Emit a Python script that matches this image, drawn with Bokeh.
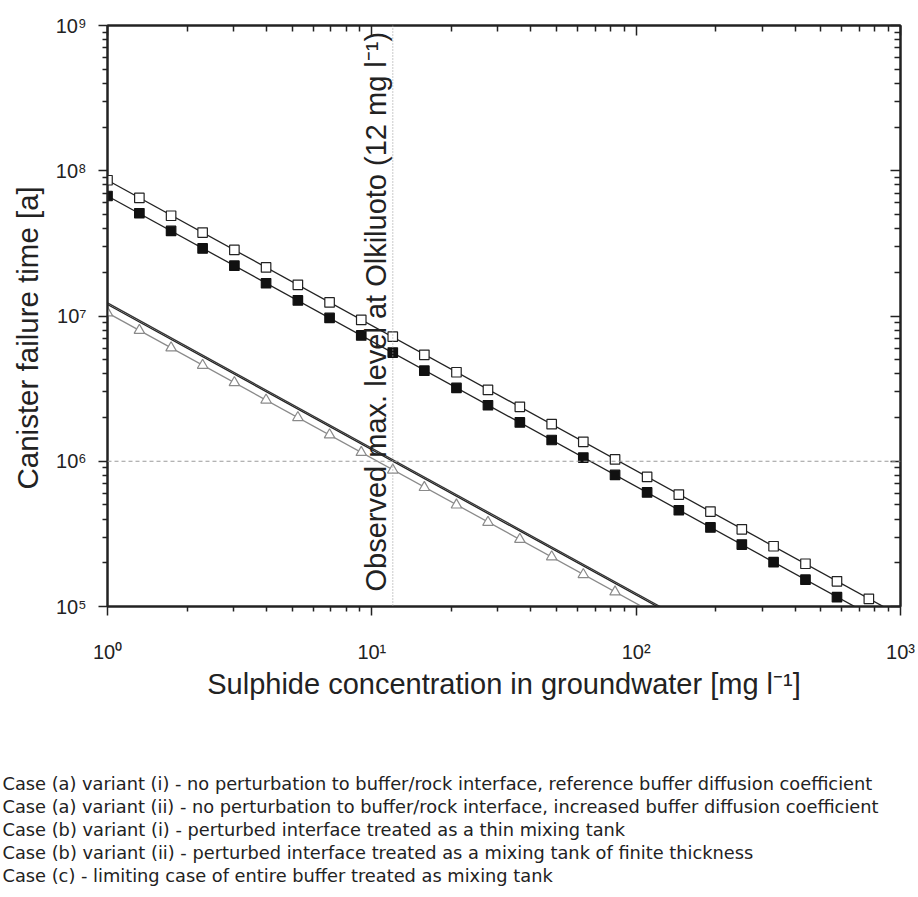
import math
from bokeh.plotting import figure
from bokeh.models import (LogAxis, FixedTicker, CustomJSTickFormatter, Span, Label,
                          Title)
from bokeh.embed import file_html
from bokeh.resources import INLINE

# ---------------- data ----------------
# sulphide concentration [mg/l] at the marker positions
S_mark = [1.0, 1.32, 1.74, 2.29, 3.02, 3.98, 5.25, 6.92, 9.12, 12.0, 15.8, 20.9,
          27.5, 36.3, 47.9, 63.1, 83.2, 110, 145, 191, 251, 331, 437, 575, 759]
# Case (a) variant (i): open squares
T_a1 = [8.6e7, 6.5e7, 4.9e7, 3.75e7, 2.85e7, 2.16e7, 1.64e7, 1.24e7, 9.4e6, 7.2e6,
        5.4e6, 4.1e6, 3.1e6, 2.37e6, 1.80e6, 1.36e6, 1.03e6, 7.8e5, 5.9e5, 4.5e5,
        3.4e5, 2.6e5, 1.97e5, 1.49e5, 1.13e5]
# Case (a) variant (ii): filled squares
T_a2 = [6.7e7, 5.1e7, 3.85e7, 2.92e7, 2.22e7, 1.68e7, 1.28e7, 9.7e6, 7.35e6, 5.6e6,
        4.2e6, 3.2e6, 2.43e6, 1.85e6, 1.40e6, 1.06e6, 8.05e5, 6.1e5, 4.6e5, 3.5e5,
        2.67e5, 2.02e5, 1.53e5, 1.16e5]
# Case (b) variant (ii): open triangles
T_b2 = [1.05e7, 7.97e6, 6.04e6, 4.58e6, 3.48e6, 2.64e6, 2.0e6, 1.52e6, 1.15e6, 8.7e5,
        6.6e5, 5.0e5, 3.8e5, 2.9e5, 2.2e5, 1.66e5, 1.26e5]

# straight lines (log-log) end points
S_line = [1.0, 1000.0]
L_a1 = [8.6e7, 8.6e4]
L_a2 = [6.7e7, 6.7e4]
L_b1 = [1.23e7, 1.23e4]
L_b2 = [1.05e7, 1.05e4]
L_c = [1.2e7, 1.2e4]

observed_level = 12.0
reference_time = 1e6

x_ticks = [1, 10, 100, 1000]
y_ticks = [1e5, 1e6, 1e7, 1e8, 1e9]

legend_texts = [
    "Case (a) variant (i) - no perturbation to buffer/rock interface, reference buffer diffusion coefficient",
    "Case (a) variant (ii) - no perturbation to buffer/rock interface, increased buffer diffusion coefficient",
    "Case (b) variant (i) - perturbed interface treated as a thin mixing tank",
    "Case (b) variant (ii) - perturbed interface treated as a mixing tank of finite thickness",
    "Case (c) - limiting case of entire buffer treated as mixing tank",
]

FONT = "Liberation Sans"

# ---------------- main plot ----------------
p = figure(width=918, height=897, x_axis_type="log", y_axis_type="log",
           x_range=(1, 1000), y_range=(1e5, 1e9),
           output_backend="svg", toolbar_location=None,
           min_border_left=107, min_border_right=18, min_border_top=25,
           min_border_bottom=291)
p.xgrid.visible = False
p.ygrid.visible = False
p.outline_line_color = "#222222"
p.outline_line_width = 2
p.background_fill_color = "white"
p.border_fill_color = "white"

x_minor = [m * 10 ** e for e in range(0, 3) for m in range(2, 10)]
y_minor = [m * 10 ** e for e in range(5, 9) for m in range(2, 10)]

sup_code = """
const sup = {"0":"\u2070","1":"\u00b9","2":"\u00b2","3":"\u00b3","4":"\u2074",
             "5":"\u2075","6":"\u2076","7":"\u2077","8":"\u2078","9":"\u2079","-":"\u207b"};
const e = Math.round(Math.log10(tick));
return "10" + String(e).split("").map(c => sup[c]).join("");
"""


def style_axis(ax, ticks, minor, inside):
    ax.ticker = FixedTicker(ticks=ticks, minor_ticks=minor)
    ax.axis_line_width = 2
    ax.axis_line_color = "#222222"
    ax.major_tick_line_color = "#222222"
    ax.minor_tick_line_color = "#222222"
    ax.major_tick_line_width = 1.5
    ax.minor_tick_line_width = 1.5
    if inside:
        ax.major_tick_in = 10
        ax.major_tick_out = 0
        ax.minor_tick_in = 6
        ax.minor_tick_out = 0
        ax.major_label_text_font_size = "2px"
        ax.major_label_text_alpha = 0
        ax.major_label_standoff = 0
    else:
        ax.major_tick_in = 0
        ax.major_tick_out = 9
        ax.minor_tick_in = 0
        ax.minor_tick_out = 5
        ax.formatter = CustomJSTickFormatter(code=sup_code)
        ax.major_label_text_font = FONT
        ax.major_label_text_font_size = "20px"
        ax.major_label_text_color = "#222222"


xa = p.xaxis[0]
ya = p.yaxis[0]
style_axis(xa, x_ticks, x_minor, False)
style_axis(ya, y_ticks, y_minor, False)
xa.major_label_standoff = 25
ya.major_label_standoff = 12
xa.axis_label = "Sulphide concentration in groundwater [mg l\u207b\u00b9]"
xa.axis_label_text_font = FONT
xa.axis_label_text_font_size = "29px"
xa.axis_label_text_font_style = "normal"
xa.axis_label_text_color = "#222222"
xa.axis_label_standoff = 2

top = LogAxis()
right = LogAxis()
style_axis(top, x_ticks, x_minor, True)
style_axis(right, y_ticks, y_minor, True)
p.add_layout(top, "above")
p.add_layout(right, "right")

# y axis title, set a little below the frame centre as in the reference
p.add_layout(Title(text="Canister failure time [a]", align="left", offset=117,
                   standoff=17, text_font=FONT, text_font_size="29.5px",
                   text_font_style="normal", text_color="#222222"), "left")

# reference lines
p.add_layout(Span(location=reference_time, dimension="width", line_color="#9a9a9a",
                  line_dash="4 3", line_width=1))
p.add_layout(Span(location=observed_level, dimension="height", line_color="#a8a8a8",
                  line_dash="1 2", line_width=1.2))

# lines
p.line(S_line, L_a1, line_color="#222222", line_width=1.3)
p.line(S_line, L_a2, line_color="#222222", line_width=1.3)
p.line(S_line, L_c, line_color="#222222", line_width=1.3)
p.line(S_line, L_b1, line_color="#333333", line_width=1.3)
p.line(S_line, L_b2, line_color="#8a8a8a", line_width=1.3)

# markers
p.scatter(S_mark[:len(T_a1)], T_a1, marker="square", size=9.5, fill_color="white",
          line_color="#222222", line_width=1.2)
p.scatter(S_mark[:len(T_a2)], T_a2, marker="square", size=9.5, fill_color="#111111",
          line_color="#111111", line_width=1.2)
p.scatter(S_mark[:len(T_b2)], T_b2, marker="triangle", size=10.5, fill_color="white",
          line_color="#8a8a8a", line_width=1.2)

# observed level annotation
p.add_layout(Label(x=observed_level, y=1e5, y_offset=15, x_offset=-1,
                   text="Observed max. level at Olkiluoto (12 mg l\u207b\u00b9)",
                   angle=math.pi / 2, text_align="left", text_baseline="bottom",
                   text_font=FONT, text_font_size="29px", text_color="#222222"))

# spacer between the axis title and the legend block
p.add_layout(Title(text="\u00a0", align="left", vertical_align="top", standoff=57,
                   text_font_size="10px"), "below")

# legend block below the chart
for t in legend_texts:
    p.add_layout(Title(text=t, align="left", offset=-105, vertical_align="top",
                       standoff=0,
                       text_font="DejaVu Sans", text_font_size="17.8px",
                       text_font_style="normal", text_color="#222222"), "below")

open("out.html", "w").write(file_html(p, INLINE))
